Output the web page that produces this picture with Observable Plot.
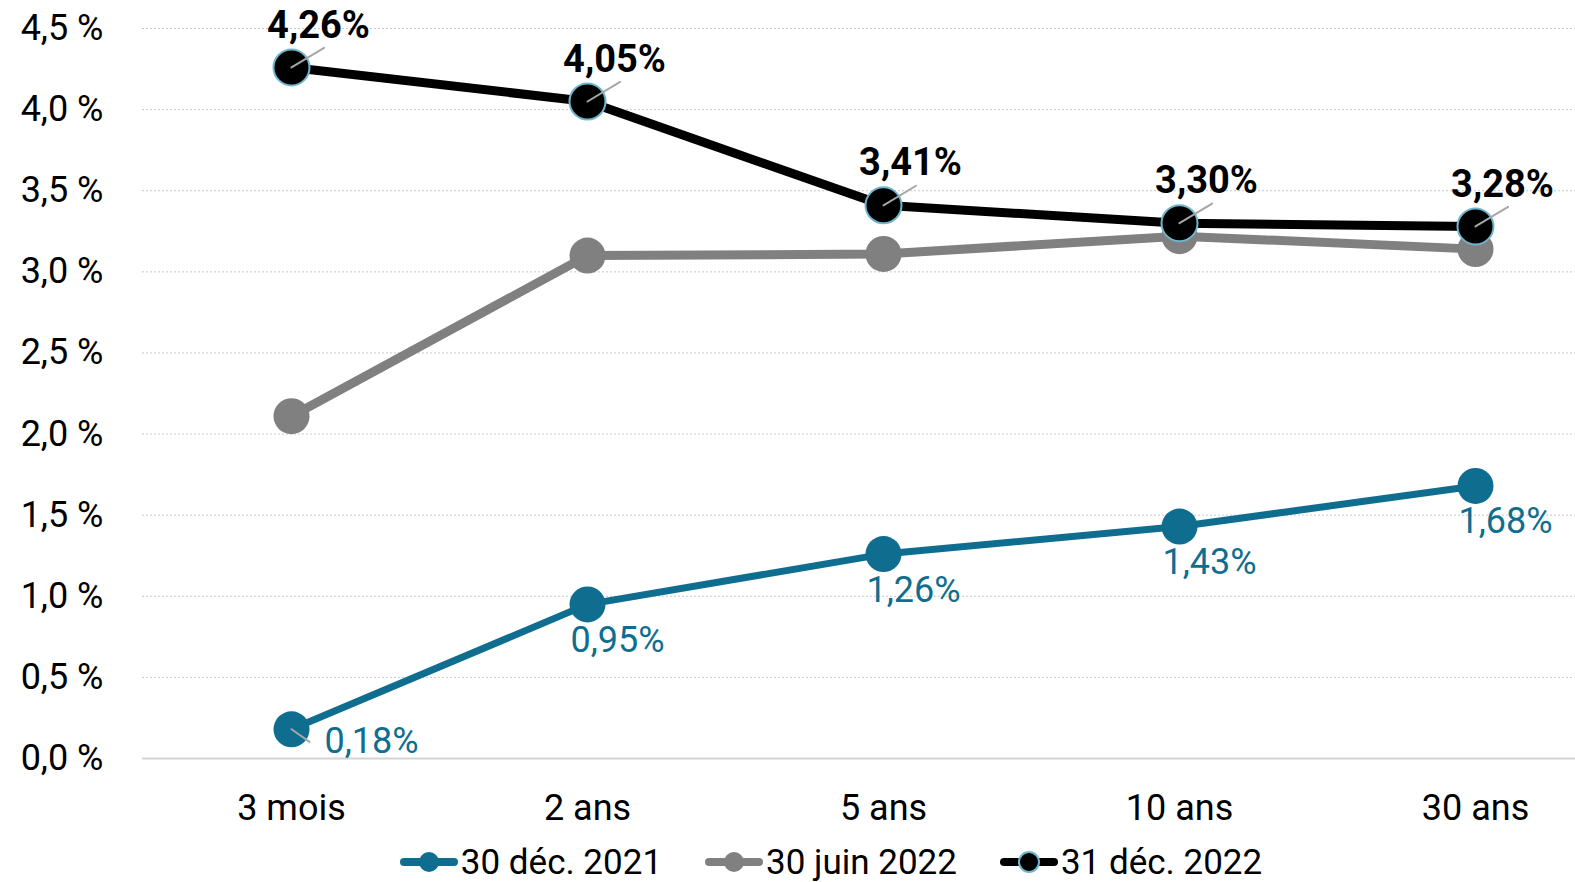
<!DOCTYPE html>
<html><head><meta charset="utf-8">
<script src="https://cdn.jsdelivr.net/npm/d3@7"></script>
<script src="https://cdn.jsdelivr.net/npm/@observablehq/plot@0.6"></script>
<style>
body{margin:0;background:#fff;font-family:Roboto,sans-serif;}
#legend{display:flex;justify-content:center;align-items:center;height:52px;margin-top:6px;padding-left:86px;gap:42px;font-size:35px;color:#000;}
.item{display:flex;align-items:center;gap:2px;}
.item svg{display:block;}
</style></head><body>
<div id="chart"></div>
<div id="legend"></div>
<script>
const categories = ["3 mois", "2 ans", "5 ans", "10 ans", "30 ans"];
const seriesNames = ["30 déc. 2021", "30 juin 2022", "31 déc. 2022"];
const valuesDec2021 = [0.18, 0.95, 1.26, 1.43, 1.68];
const valuesJun2022 = [2.11, 3.10, 3.11, 3.22, 3.14];
const valuesDec2022 = [4.26, 4.05, 3.41, 3.30, 3.28];
const yTicks = [0, 0.5, 1.0, 1.5, 2.0, 2.5, 3.0, 3.5, 4.0, 4.5];

const BLUE = "#0f6e8f", GREY = "#808080", BLACK = "#000000", RING = "#6fb6cf";
const fmtTick = d => d.toFixed(1).replace(".", ",") + " %";
const fmtLab = d => d.toFixed(2).replace(".", ",") + "%";
const rows = (vals, s) => categories.map((c, i) => ({cat: c, v: vals[i], s, i}));
const blue = rows(valuesDec2021, seriesNames[0]);
const grey = rows(valuesJun2022, seriesNames[1]);
const black = rows(valuesDec2022, seriesNames[2]);
const leader = {draw(ctx, l) { ctx.moveTo(0, 0); ctx.lineTo(0, -l); }};

const chart = Plot.plot({
  width: 1575, height: 830,
  marginLeft: 142, marginRight: 0, marginTop: 28, marginBottom: 72,
  style: {fontFamily: "Roboto, sans-serif", fontSize: "36px", color: "#000", background: "#fff"},
  x: {type: "point", domain: categories, range: [290, 1476], padding: 0, label: null, tickSize: 0, tickPadding: 36},
  y: {domain: [0, 4.5], ticks: yTicks, tickFormat: fmtTick, label: null, tickSize: 0, tickPadding: 39},
  marks: [
    Plot.gridY(yTicks.slice(1), {stroke: "#c8c8c8", strokeOpacity: 1, strokeDasharray: "2,2"}),
    Plot.ruleY([0], {stroke: "#d4d4d4", strokeWidth: 2}),
    Plot.line(blue, {x: "cat", y: "v", stroke: BLUE, strokeWidth: 7}),
    Plot.dot(blue, {x: "cat", y: "v", r: 18, fill: BLUE}),
    Plot.line(grey, {x: "cat", y: "v", stroke: GREY, strokeWidth: 9}),
    Plot.dot(grey, {x: "cat", y: "v", r: 18, fill: GREY}),
    Plot.line(black, {x: "cat", y: "v", stroke: BLACK, strokeWidth: 9}),
    Plot.dot(black, {x: "cat", y: "v", r: 18, fill: BLACK, stroke: RING, strokeWidth: 2}),
    Plot.vector(black, {x: "cat", y: "v", rotate: 59, length: 38, anchor: "start", shape: leader, stroke: "#a6a6a6", strokeWidth: 2}),
    Plot.vector(blue.filter(d => d.i === 0), {x: "cat", y: "v", rotate: 125, length: 22, anchor: "start", shape: leader, stroke: "#a6a6a6", strokeWidth: 2}),
    Plot.text(black, {x: "cat", y: "v", text: d => fmtLab(d.v), dx: 27, dy: -42, fontWeight: "bold", fontSize: 38, fill: BLACK}),
    Plot.text(blue.filter(d => d.i === 0), {x: "cat", y: "v", text: d => fmtLab(d.v), dx: 33, dy: 12, textAnchor: "start", fontSize: 36, fill: BLUE}),
    Plot.text(blue.filter(d => d.i > 0), {x: "cat", y: "v", text: d => fmtLab(d.v), dx: 30, dy: 36, fontSize: 36, fill: BLUE})
  ]
});
document.getElementById("chart").appendChild(chart);

const legendColors = [BLUE, GREY, BLACK];
const legend = document.getElementById("legend");
seriesNames.forEach((name, k) => {
  const item = document.createElement("div");
  item.className = "item";
  const ring = k === 2 ? `stroke="${RING}" stroke-width="2"` : "";
  item.innerHTML = `<svg width="60" height="30" viewBox="0 0 60 30"><line x1="5" y1="15" x2="55" y2="15" stroke="${legendColors[k]}" stroke-width="8" stroke-linecap="round"/><circle cx="30" cy="15" r="10" fill="${legendColors[k]}" ${ring}/></svg><span>${name}</span>`;
  legend.appendChild(item);
});
</script>
</body></html>
